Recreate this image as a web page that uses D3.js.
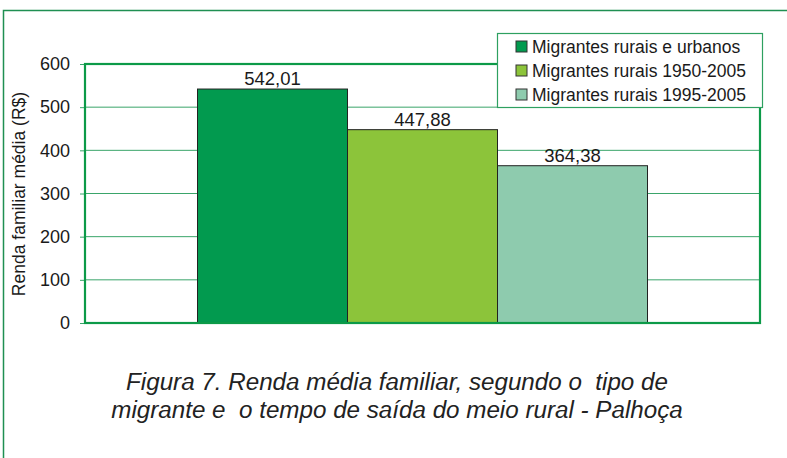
<!DOCTYPE html>
<html>
<head>
<meta charset="utf-8">
<script src="https://cdn.jsdelivr.net/npm/d3@7"></script>
<style>
  body { margin: 0; background: #fff; }
  svg { display: block; font-family: "Liberation Sans", Arial, sans-serif; }
</style>
</head>
<body>
<div id="chart-container"></div>
<script>
// Chart data
const series = ["Migrantes rurais e urbanos", "Migrantes rurais 1950-2005", "Migrantes rurais 1995-2005"];
const values = [542.01, 447.88, 364.38];
const labels = ["542,01", "447,88", "364,38"];
const colors = ["#029a4f", "#8cc43a", "#8ecbae"];
const yTicks = [0, 100, 200, 300, 400, 500, 600];

const W = 787, H = 458;
const margin = { top: 64, right: 27, bottom: 135, left: 85 };
const width = W - margin.left - margin.right;
const height = H - margin.top - margin.bottom;

const svg = d3.select("#chart-container")
  .append("svg")
  .attr("width", W)
  .attr("height", H);

// outer frame (only top and left visible)
svg.append("path")
  .attr("d", `M3.5,${H} V10.5 H${W}`)
  .attr("fill", "none")
  .attr("stroke", "#1f8f52")
  .attr("stroke-width", 1.5);

const g = svg.append("g")
  .attr("transform", `translate(${margin.left},${margin.top})`);

// scales
const yScale = d3.scaleLinear().domain([0, 600]).range([height, 0]);
const outer = d3.scaleBand().domain(["g"]).range([0, width]).paddingInner(0).paddingOuter(0.25);
const xScale = d3.scaleBand()
  .domain(series)
  .range([outer("g"), outer("g") + outer.bandwidth()])
  .padding(0);

// grid lines
g.selectAll(".grid")
  .data(yTicks.filter(d => d > 0 && d < 600))
  .enter().append("line")
  .attr("x1", 0).attr("x2", width)
  .attr("y1", d => yScale(d)).attr("y2", d => yScale(d))
  .attr("stroke", "#3aa56a")
  .attr("stroke-width", 1);

// y axis
const yAxis = d3.axisLeft(yScale).tickValues(yTicks).tickSize(5).tickPadding(10);
const ya = g.append("g").call(yAxis);
ya.select(".domain").remove();
ya.selectAll(".tick line").attr("stroke", "#3aa56a");
ya.selectAll(".tick text")
  .attr("fill", "#1a1a1a")
  .style("font-size", "18px")
  .style("font-family", "Liberation Sans, Arial, sans-serif");

// bars
g.selectAll(".bar")
  .data(values)
  .enter().append("rect")
  .attr("class", "bar")
  .attr("x", (d, i) => xScale(series[i]))
  .attr("y", d => yScale(d))
  .attr("width", xScale.bandwidth())
  .attr("height", d => height - yScale(d))
  .attr("fill", (d, i) => colors[i])
  .attr("stroke", "#222")
  .attr("stroke-width", 1);

// value labels
g.selectAll(".val")
  .data(values)
  .enter().append("text")
  .attr("x", (d, i) => xScale(series[i]) + xScale.bandwidth() / 2)
  .attr("y", d => yScale(d) - 4)
  .attr("text-anchor", "middle")
  .attr("fill", "#1a1a1a")
  .style("font-size", "18.5px")
  .text((d, i) => labels[i]);

// plot border
g.append("rect")
  .attr("x", 0).attr("y", 0)
  .attr("width", width).attr("height", height)
  .attr("fill", "none")
  .attr("stroke", "#0c9a48")
  .attr("stroke-width", 2.2);

// y axis title
svg.append("text")
  .attr("transform", "translate(25,194) rotate(-90)")
  .attr("text-anchor", "middle")
  .attr("fill", "#1a1a1a")
  .style("font-size", "17.5px")
  .text("Renda familiar média (R$)");

// legend
const legend = svg.append("g").attr("transform", "translate(497,33)");
legend.append("rect")
  .attr("x", 0.5).attr("y", 0.5)
  .attr("width", 265).attr("height", 74)
  .attr("fill", "#fff")
  .attr("stroke", "#2ea060")
  .attr("stroke-width", 1.2);
const items = legend.selectAll(".item")
  .data(series)
  .enter().append("g")
  .attr("transform", (d, i) => `translate(19,${8 + i * 24})`);
items.append("rect")
  .attr("width", 11).attr("height", 11)
  .attr("y", 0)
  .attr("fill", (d, i) => colors[i])
  .attr("stroke", "#333")
  .attr("stroke-width", 1);
items.append("text")
  .attr("x", 16).attr("y", 12)
  .attr("fill", "#1a1a1a")
  .style("font-size", "17.5px")
  .text(d => d);

// caption
const caption = ["Figura 7. Renda média familiar, segundo o  tipo de",
                 "migrante e  o tempo de saída do meio rural - Palhoça"];
svg.selectAll(".cap")
  .data(caption)
  .enter().append("text")
  .attr("x", 397)
  .attr("y", (d, i) => 390 + i * 28)
  .attr("text-anchor", "middle")
  .attr("fill", "#222")
  .style("font-size", "24.2px")
  .style("font-style", "italic")
  .style("white-space", "pre")
  .attr("xml:space", "preserve")
  .text(d => d);
</script>
</body>
</html>
